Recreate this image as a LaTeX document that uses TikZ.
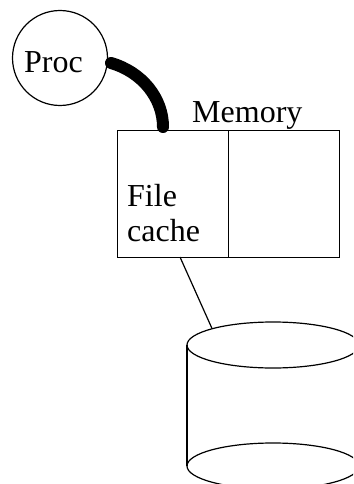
\documentclass[tikz,border=0pt]{standalone}
\usepackage{fontspec}
\setmainfont{Liberation Serif}
\begin{document}
\begin{tikzpicture}[x=1pt,y=-1pt,
  thin line/.style={line width=1.2pt},
  boxpart/.style={draw,thin line,rectangle,minimum width=111pt,minimum height=127pt,inner sep=0pt},
  lbl/.style={font=\fontsize{32}{35}\selectfont,inner sep=0pt}]
\useasboundingbox (0,0) rectangle (353,484);
\clip (0,0) rectangle (353,484);
% process
\node[draw,thin line,circle,minimum size=95pt,inner sep=0pt] (proc) at (60,58) {};
\node[lbl,anchor=base west] (proctext) at (24,73) {Proc};
% memory
\node[boxpart,anchor=north west] (cache) at (117,130) {};
\node[boxpart,anchor=north west] (other) at (228,130) {};
\node[lbl,anchor=base west] (memtext) at (192,122) {Memory};
\node[lbl,anchor=base west,align=left] (cachetext) at (127,241) {File\\cache};
% thick connection
\coordinate (pstart) at (111,63);
\coordinate (pend) at (163,127);
\draw[line width=12pt,line cap=round] (pstart) .. controls (142,72) and (163,98) .. (pend);
% disk
\coordinate (disktop) at (212,328.5);
\coordinate (cachebot) at (180,257);
\draw[thin line] (cachebot) -- (disktop);
\draw[thin line] (273,345) ellipse [x radius=86, y radius=23];
\draw[thin line] (273,466) ellipse [x radius=86, y radius=23];
\draw[thin line] (187,345) -- (187,466);
\draw[thin line] (359,345) -- (359,466);
\end{tikzpicture}
\end{document}
